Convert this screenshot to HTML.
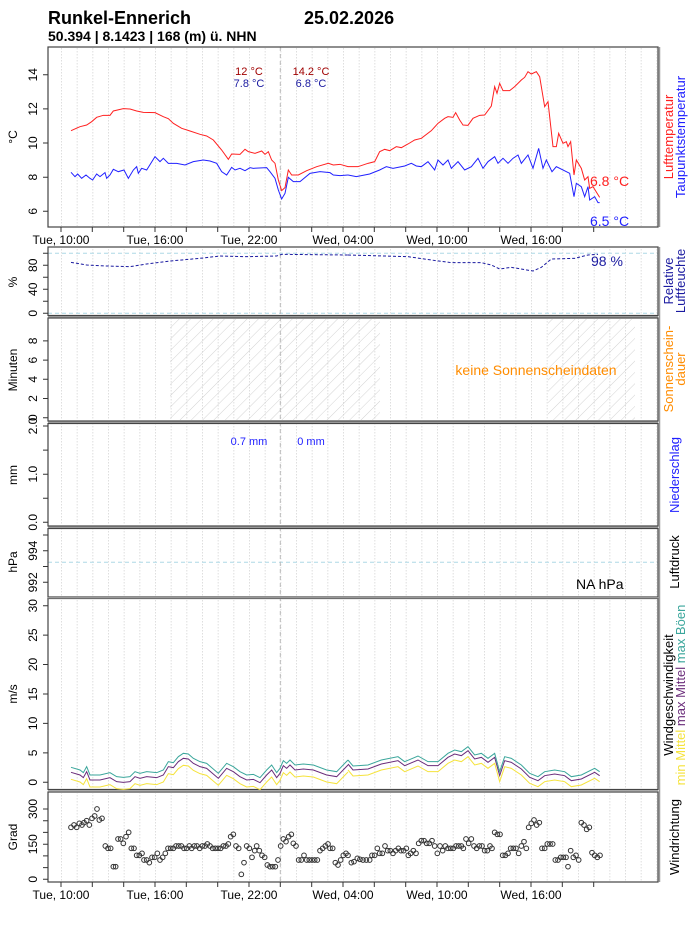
<!DOCTYPE html>
<html><head><meta charset="utf-8"><style>
html,body{margin:0;padding:0;background:#fff;}
svg{display:block;font-family:"Liberation Sans",Arial,sans-serif;}
</style></head><body>
<svg width="696" height="930" viewBox="0 0 696 930" xmlns="http://www.w3.org/2000/svg">
<defs>
<pattern id="grid" patternUnits="userSpaceOnUse" x="61" y="0" width="15.667" height="930">
<line x1="0.5" y1="0" x2="0.5" y2="930" stroke="#d6d6d6" stroke-width="0.8" stroke-dasharray="1.5,1.5"/>
</pattern>
<pattern id="hatch" patternUnits="userSpaceOnUse" width="8" height="8" patternTransform="rotate(45)">
<line x1="0" y1="0" x2="0" y2="8" stroke="#c8c8c8" stroke-width="0.8"/>
</pattern>
</defs>
<rect width="696" height="930" fill="#fff"/>
<text x="48" y="24" font-size="18" font-weight="bold">Runkel-Ennerich</text>
<text x="304" y="24" font-size="18" font-weight="bold">25.02.2026</text>
<text x="48" y="41" font-size="14" font-weight="bold">50.394 | 8.1423 | 168 (m) ü. NHN</text>

<rect x="49" y="48" width="608" height="178" fill="url(#grid)"/>
<rect x="49" y="248" width="608" height="67" fill="url(#grid)"/>
<rect x="49" y="319" width="608" height="101" fill="url(#grid)"/>
<rect x="49" y="424" width="608" height="101" fill="url(#grid)"/>
<rect x="49" y="529" width="608" height="67" fill="url(#grid)"/>
<rect x="49" y="599" width="608" height="189" fill="url(#grid)"/>
<rect x="49" y="793" width="608" height="88" fill="url(#grid)"/>

<rect x="170" y="319" width="210" height="101" fill="url(#hatch)"/>
<rect x="548" y="319" width="87" height="101" fill="url(#hatch)"/>

<g stroke="#add8e6" stroke-width="1" stroke-dasharray="4,3">
<line x1="48" y1="253.3" x2="658" y2="253.3"/>
<line x1="48" y1="313.3" x2="658" y2="313.3"/>
<line x1="48" y1="562.3" x2="658" y2="562.3"/>
</g>
<g stroke="#bbb" stroke-width="1" stroke-dasharray="4,3">
<line x1="280.3" y1="47" x2="280.3" y2="227"/>
<line x1="280.3" y1="247" x2="280.3" y2="882"/>
</g>

<g fill="none" stroke="#444" stroke-width="1.2">
<rect x="48" y="47" width="610" height="180"/>
<rect x="48" y="247" width="610" height="68.5"/>
<rect x="48" y="318" width="610" height="103"/>
<rect x="48" y="423.5" width="610" height="102.5"/>
<rect x="48" y="528.5" width="610" height="68.5"/>
<rect x="48" y="598.5" width="610" height="191"/>
<rect x="48" y="792" width="610" height="90"/>
</g>
<g stroke="#999" stroke-width="1.5">
<line x1="48" y1="316.8" x2="658" y2="316.8"/>
<line x1="48" y1="422.3" x2="658" y2="422.3"/>
<line x1="48" y1="527.2" x2="658" y2="527.2"/>
<line x1="48" y1="597.8" x2="658" y2="597.8"/>
<line x1="48" y1="791" x2="658" y2="791"/>
<line x1="659.5" y1="47" x2="659.5" y2="227"/>
<line x1="659.5" y1="247" x2="659.5" y2="882"/>
</g>

<g stroke="#333" stroke-width="1">
<path d="M61,227v5M92.3,227v5M123.7,227v5M155,227v5M186.3,227v5M217.7,227v5M249,227v5M280.3,227v5M311.7,227v5M343,227v5M374.3,227v5M405.7,227v5M437,227v5M468.3,227v5M499.7,227v5M531,227v5M562.3,227v5M593.7,227v5"/>
<path d="M61,882v5M92.3,882v5M123.7,882v5M155,882v5M186.3,882v5M217.7,882v5M249,882v5M280.3,882v5M311.7,882v5M343,882v5M374.3,882v5M405.7,882v5M437,882v5M468.3,882v5M499.7,882v5M531,882v5M562.3,882v5M593.7,882v5"/>
</g>
<g font-size="12" text-anchor="middle" fill="#000">
<text x="61" y="244">Tue, 10:00</text><text x="155" y="244">Tue, 16:00</text><text x="249" y="244">Tue, 22:00</text>
<text x="343" y="244">Wed, 04:00</text><text x="437" y="244">Wed, 10:00</text><text x="531" y="244">Wed, 16:00</text>
<text x="61" y="899">Tue, 10:00</text><text x="155" y="899">Tue, 16:00</text><text x="249" y="899">Tue, 22:00</text>
<text x="343" y="899">Wed, 04:00</text><text x="437" y="899">Wed, 10:00</text><text x="531" y="899">Wed, 16:00</text>
</g>

<g stroke="#333" stroke-width="1">
<path d="M43,211.3h5M43,177.2h5M43,143h5M43,108.9h5M43,74.7h5"/>
<path d="M43,313.3h5M43,301.3h5M43,289.3h5M43,277.3h5M43,265.3h5M43,253.3h5"/>
<path d="M43,417.7h5M43,398.5h5M43,379.3h5M43,360.1h5M43,340.9h5"/>
<path d="M43,522.3h5M43,498.2h5M43,474.2h5M43,450.1h5M43,426h5"/>
<path d="M43,582.3h5M43,566.5h5M43,550.7h5M43,535h5"/>
<path d="M43,782.3h5M43,752.9h5M43,723.4h5M43,694h5M43,664.5h5M43,635.1h5M43,605.7h5"/>
<path d="M43,879.3h5M43,867.6h5M43,855.9h5M43,844.2h5M43,832.4h5M43,820.7h5M43,809h5"/>
</g>
<g font-size="12" text-anchor="middle" fill="#000">
<text transform="translate(37,211.3) rotate(-90)">6</text>
<text transform="translate(37,177.2) rotate(-90)">8</text>
<text transform="translate(37,143) rotate(-90)">10</text>
<text transform="translate(37,108.9) rotate(-90)">12</text>
<text transform="translate(37,74.7) rotate(-90)">14</text>
<text transform="translate(37,313.3) rotate(-90)">0</text>
<text transform="translate(37,289.3) rotate(-90)">40</text>
<text transform="translate(37,265.3) rotate(-90)">80</text>
<text transform="translate(37,417.7) rotate(-90)">0</text>
<text transform="translate(37,398.5) rotate(-90)">2</text>
<text transform="translate(37,379.3) rotate(-90)">4</text>
<text transform="translate(37,360.1) rotate(-90)">6</text>
<text transform="translate(37,340.9) rotate(-90)">8</text>
<text transform="translate(37,522.3) rotate(-90)">0.0</text>
<text transform="translate(37,474.2) rotate(-90)">1.0</text>
<text transform="translate(37,426) rotate(-90)">2.0</text>
<text transform="translate(37,582.3) rotate(-90)">992</text>
<text transform="translate(37,550.7) rotate(-90)">994</text>
<text transform="translate(37,782.3) rotate(-90)">0</text>
<text transform="translate(37,752.9) rotate(-90)">5</text>
<text transform="translate(37,723.4) rotate(-90)">10</text>
<text transform="translate(37,694) rotate(-90)">15</text>
<text transform="translate(37,664.5) rotate(-90)">20</text>
<text transform="translate(37,635.1) rotate(-90)">25</text>
<text transform="translate(37,605.7) rotate(-90)">30</text>
<text transform="translate(37,879.3) rotate(-90)">0</text>
<text transform="translate(37,844.2) rotate(-90)">150</text>
<text transform="translate(37,809) rotate(-90)">300</text>
<text transform="translate(17,137) rotate(-90)">°C</text>
<text transform="translate(17,282) rotate(-90)">%</text>
<text transform="translate(17,370) rotate(-90)">Minuten</text>
<text transform="translate(17,475) rotate(-90)">mm</text>
<text transform="translate(17,562) rotate(-90)">hPa</text>
<text transform="translate(17,694) rotate(-90)">m/s</text>
<text transform="translate(17,837) rotate(-90)">Grad</text>
</g>

<g transform="scale(0.33333)" fill="none">
<polyline stroke="#ff2020" vector-effect="non-scaling-stroke" points="213,392 240,380 260,375 275,365 290,352 310,346 330,346 340,333 370,326 390,327 410,333 430,337 465,338 490,350 505,356 520,370 545,385 570,393 600,403 620,408 640,420 665,450 685,478 695,462 720,463 735,448 745,455 765,460 785,453 795,463 805,455 815,480 825,490 835,540 845,572 855,563 865,510 875,525 895,525 920,512 950,500 985,490 1000,495 1020,493 1044,500"/>
<polyline stroke="#2020ff" vector-effect="non-scaling-stroke" points="213,517 225,530 233,522 245,535 258,525 270,535 278,540 290,522 300,530 315,518 320,535 330,525 340,508 355,515 372,510 385,535 400,510 410,500 415,520 425,505 440,510 465,470 480,485 490,475 505,490 530,490 555,495 580,485 610,480 630,483 650,490 665,515 680,525 695,502 705,510 720,505 735,512 750,503 760,505 800,503 810,515 825,535 835,570 845,597 855,580 865,532 880,545 900,545 930,520 960,515 990,518 1000,525 1020,527 1044,525"/>
</g>
<g transform="translate(348,0) scale(0.33333)" fill="none">
<polyline stroke="#ff2020" vector-effect="non-scaling-stroke" points="0,500 30,500 60,490 80,485 95,455 110,448 125,452 145,440 160,443 180,432 200,420 220,415 250,392 270,370 290,355 300,350 315,352 323,338 335,360 345,375 360,376 375,355 395,346 410,345 430,318 440,260 447,280 455,250 465,272 485,272 500,260 520,240 530,232 540,215 550,222 565,215 575,230 590,320 600,305 615,440 625,440 632,400 645,430 655,425 660,440 668,425 678,525 685,480 700,505 710,540 720,530 725,565 735,560 755,592"/>
<polyline stroke="#2020ff" vector-effect="non-scaling-stroke" points="0,525 25,530 65,522 95,510 115,500 135,505 170,498 190,490 205,498 220,500 240,485 260,510 270,480 285,495 300,480 310,505 330,485 350,510 370,500 390,475 405,505 420,485 440,470 450,490 465,475 480,490 495,475 510,465 520,490 540,465 555,505 572,445 585,505 595,480 612,515 625,500 665,520 678,590 685,550 700,560 710,590 720,560 725,600 740,590 750,608 755,608"/>
</g>
<g font-size="11" text-anchor="middle">
<text x="249" y="75" fill="#a00000">12 °C</text>
<text x="249" y="87" fill="#1a1aa0">7.8 °C</text>
<text x="311" y="75" fill="#a00000">14.2 °C</text>
<text x="311" y="87" fill="#1a1aa0">6.8 °C</text>
</g>
<text x="590" y="186" font-size="14" fill="#ff2020">6.8 °C</text>
<text x="590" y="226" font-size="14" fill="#2020ff">6.5 °C</text>

<g transform="translate(0,240) scale(0.33333)" fill="none">
<polyline stroke="#1a1aa0" stroke-dasharray="3,2" vector-effect="non-scaling-stroke" points="213,67 260,75 320,78 390,80 440,72 510,63 600,55 660,48 740,50 830,48 845,43 1044,45"/>
</g>
<g transform="translate(348,240) scale(0.33333)" fill="none">
<polyline stroke="#1a1aa0" stroke-dasharray="3,2" vector-effect="non-scaling-stroke" points="0,45 180,50 250,60 310,68 400,68 430,75 455,87 490,82 555,93 580,82 610,57 680,55 720,45 750,43"/>
</g>
<text x="591" y="266" font-size="14" fill="#1a1aa0">98 %</text>

<text x="536" y="375" font-size="14" fill="#ff8c00" text-anchor="middle">keine Sonnenscheindaten</text>
<text x="249" y="445" font-size="11" fill="#2020ff" text-anchor="middle">0.7 mm</text>
<text x="311" y="445" font-size="11" fill="#2020ff" text-anchor="middle">0 mm</text>
<text x="576" y="589" font-size="14" fill="#000">NA hPa</text>

<!-- wind -->
<g transform="translate(0,590) scale(0.33333)" fill="none">
<g transform="translate(0,36)"><polyline stroke="#f5e33c" vector-effect="non-scaling-stroke" points="213,532 240,540 250,548 260,530 270,555 300,555 330,548 350,560 370,562 390,560 405,545 420,550 440,545 470,548 490,540 505,515 520,518 535,500 550,490 565,492 580,505 600,515 620,520 655,550 680,520 700,530 720,545 740,555 760,553 780,563 800,540 815,525 830,548 840,535 850,512 860,520 870,510 885,525 910,522 940,525 980,540 1010,545 1044,510"/></g>
<g transform="translate(0,15)"><polyline stroke="#6a2c7a" vector-effect="non-scaling-stroke" points="213,532 240,540 250,548 260,530 270,555 300,555 330,548 350,560 370,562 390,560 405,545 420,550 440,545 470,548 490,540 505,515 520,518 535,500 550,490 565,492 580,505 600,515 620,520 655,550 680,520 700,530 720,545 740,555 760,553 780,563 800,540 815,525 830,548 840,535 850,512 860,520 870,510 885,525 910,522 940,525 980,540 1010,545 1044,510"/></g>
<polyline stroke="#3aa69b" vector-effect="non-scaling-stroke" points="213,532 240,540 250,548 260,530 270,555 300,555 330,548 350,560 370,562 390,560 405,545 420,550 440,545 470,548 490,540 505,515 520,518 535,500 550,490 565,492 580,505 600,515 620,520 655,550 680,520 700,530 720,545 740,555 760,553 780,563 800,540 815,525 830,548 840,535 850,512 860,520 870,510 885,525 910,522 940,525 980,540 1010,545 1044,510"/>
</g>
<g transform="translate(348,590) scale(0.33333)" fill="none">
<g transform="translate(0,30)"><polyline stroke="#f5e33c" vector-effect="non-scaling-stroke" points="0,510 15,528 60,525 100,510 150,500 170,515 210,498 240,515 270,515 300,490 320,480 340,485 360,470 380,495 400,490 420,505 440,490 455,545 470,500 490,505 520,525 545,550 570,560 590,545 620,540 650,545 670,560 700,555 740,535 755,545"/></g>
<g transform="translate(0,12)"><polyline stroke="#6a2c7a" vector-effect="non-scaling-stroke" points="0,510 15,528 60,525 100,510 150,500 170,515 210,498 240,515 270,515 300,490 320,480 340,485 360,470 380,495 400,490 420,505 440,490 455,545 470,500 490,505 520,525 545,550 570,560 590,545 620,540 650,545 670,560 700,555 740,535 755,545"/></g>
<polyline stroke="#3aa69b" vector-effect="non-scaling-stroke" points="0,510 15,528 60,525 100,510 150,500 170,515 210,498 240,515 270,515 300,490 320,480 340,485 360,470 380,495 400,490 420,505 440,490 455,545 470,500 490,505 520,525 545,550 570,560 590,545 620,540 650,545 670,560 700,555 740,535 755,545"/>
</g>

<!-- wind direction -->
<g transform="translate(0,590) scale(0.33333)" fill="none" stroke="#333" stroke-width="3">
<circle cx="213" cy="712" r="7"/><circle cx="222" cy="705" r="7"/><circle cx="230" cy="712" r="7"/><circle cx="238" cy="700" r="7"/><circle cx="246" cy="705" r="7"/><circle cx="252" cy="698" r="7"/><circle cx="260" cy="692" r="7"/><circle cx="268" cy="705" r="7"/><circle cx="276" cy="685" r="7"/><circle cx="284" cy="678" r="7"/><circle cx="291" cy="657" r="7"/><circle cx="298" cy="690" r="7"/><circle cx="306" cy="685" r="7"/><circle cx="316" cy="768" r="7"/><circle cx="324" cy="775" r="7"/><circle cx="332" cy="775" r="7"/><circle cx="340" cy="830" r="7"/><circle cx="347" cy="830" r="7"/><circle cx="354" cy="747" r="7"/><circle cx="362" cy="747" r="7"/><circle cx="370" cy="760" r="7"/><circle cx="378" cy="740" r="7"/><circle cx="386" cy="727" r="7"/><circle cx="394" cy="775" r="7"/><circle cx="402" cy="775" r="7"/><circle cx="410" cy="796" r="7"/><circle cx="418" cy="796" r="7"/><circle cx="426" cy="790" r="7"/><circle cx="432" cy="810" r="7"/><circle cx="440" cy="810" r="7"/><circle cx="448" cy="818" r="7"/><circle cx="456" cy="802" r="7"/><circle cx="464" cy="802" r="7"/><circle cx="472" cy="790" r="7"/><circle cx="480" cy="810" r="7"/><circle cx="488" cy="802" r="7"/><circle cx="496" cy="790" r="7"/><circle cx="504" cy="775" r="7"/><circle cx="512" cy="775" r="7"/><circle cx="520" cy="775" r="7"/><circle cx="528" cy="768" r="7"/><circle cx="536" cy="768" r="7"/><circle cx="544" cy="768" r="7"/><circle cx="552" cy="775" r="7"/><circle cx="560" cy="775" r="7"/><circle cx="568" cy="768" r="7"/><circle cx="575" cy="775" r="7"/><circle cx="583" cy="768" r="7"/><circle cx="591" cy="768" r="7"/><circle cx="599" cy="775" r="7"/><circle cx="607" cy="768" r="7"/><circle cx="615" cy="768" r="7"/><circle cx="622" cy="762" r="7"/><circle cx="630" cy="768" r="7"/><circle cx="638" cy="775" r="7"/><circle cx="646" cy="775" r="7"/><circle cx="654" cy="775" r="7"/><circle cx="662" cy="775" r="7"/><circle cx="670" cy="768" r="7"/><circle cx="678" cy="768" r="7"/><circle cx="685" cy="762" r="7"/><circle cx="692" cy="740" r="7"/><circle cx="700" cy="733" r="7"/><circle cx="708" cy="768" r="7"/><circle cx="716" cy="775" r="7"/><circle cx="724" cy="853" r="7"/><circle cx="732" cy="818" r="7"/><circle cx="740" cy="768" r="7"/><circle cx="748" cy="775" r="7"/><circle cx="756" cy="802" r="7"/><circle cx="764" cy="782" r="7"/><circle cx="770" cy="768" r="7"/><circle cx="778" cy="782" r="7"/><circle cx="786" cy="796" r="7"/><circle cx="794" cy="802" r="7"/><circle cx="802" cy="825" r="7"/><circle cx="810" cy="830" r="7"/><circle cx="818" cy="830" r="7"/><circle cx="826" cy="830" r="7"/><circle cx="834" cy="810" r="7"/><circle cx="842" cy="768" r="7"/><circle cx="850" cy="747" r="7"/><circle cx="858" cy="755" r="7"/><circle cx="866" cy="740" r="7"/><circle cx="874" cy="733" r="7"/><circle cx="880" cy="760" r="7"/><circle cx="888" cy="768" r="7"/><circle cx="896" cy="810" r="7"/><circle cx="904" cy="810" r="7"/><circle cx="912" cy="796" r="7"/><circle cx="920" cy="810" r="7"/><circle cx="928" cy="810" r="7"/><circle cx="936" cy="810" r="7"/><circle cx="944" cy="810" r="7"/><circle cx="952" cy="810" r="7"/><circle cx="960" cy="782" r="7"/><circle cx="968" cy="775" r="7"/><circle cx="976" cy="768" r="7"/><circle cx="984" cy="762" r="7"/><circle cx="990" cy="775" r="7"/><circle cx="998" cy="775" r="7"/><circle cx="1006" cy="818" r="7"/><circle cx="1014" cy="825" r="7"/><circle cx="1022" cy="810" r="7"/><circle cx="1030" cy="796" r="7"/><circle cx="1038" cy="790" r="7"/>
</g>
<g transform="translate(348,590) scale(0.33333)" fill="none" stroke="#333" stroke-width="3">
<circle cx="0" cy="796" r="7"/><circle cx="10" cy="818" r="7"/><circle cx="18" cy="815" r="7"/><circle cx="28" cy="805" r="7"/><circle cx="36" cy="808" r="7"/><circle cx="45" cy="810" r="7"/><circle cx="55" cy="810" r="7"/><circle cx="65" cy="810" r="7"/><circle cx="72" cy="796" r="7"/><circle cx="80" cy="796" r="7"/><circle cx="88" cy="775" r="7"/><circle cx="95" cy="790" r="7"/><circle cx="103" cy="790" r="7"/><circle cx="111" cy="768" r="7"/><circle cx="119" cy="782" r="7"/><circle cx="127" cy="782" r="7"/><circle cx="135" cy="790" r="7"/><circle cx="143" cy="782" r="7"/><circle cx="151" cy="775" r="7"/><circle cx="159" cy="782" r="7"/><circle cx="167" cy="782" r="7"/><circle cx="175" cy="775" r="7"/><circle cx="181" cy="796" r="7"/><circle cx="188" cy="790" r="7"/><circle cx="196" cy="782" r="7"/><circle cx="204" cy="790" r="7"/><circle cx="212" cy="760" r="7"/><circle cx="220" cy="752" r="7"/><circle cx="228" cy="752" r="7"/><circle cx="236" cy="760" r="7"/><circle cx="244" cy="760" r="7"/><circle cx="252" cy="752" r="7"/><circle cx="260" cy="768" r="7"/><circle cx="268" cy="790" r="7"/><circle cx="276" cy="768" r="7"/><circle cx="284" cy="782" r="7"/><circle cx="292" cy="768" r="7"/><circle cx="300" cy="775" r="7"/><circle cx="308" cy="775" r="7"/><circle cx="316" cy="775" r="7"/><circle cx="324" cy="768" r="7"/><circle cx="332" cy="768" r="7"/><circle cx="340" cy="768" r="7"/><circle cx="346" cy="775" r="7"/><circle cx="354" cy="747" r="7"/><circle cx="362" cy="760" r="7"/><circle cx="370" cy="747" r="7"/><circle cx="378" cy="768" r="7"/><circle cx="386" cy="775" r="7"/><circle cx="394" cy="768" r="7"/><circle cx="402" cy="768" r="7"/><circle cx="410" cy="782" r="7"/><circle cx="418" cy="782" r="7"/><circle cx="426" cy="768" r="7"/><circle cx="432" cy="775" r="7"/><circle cx="440" cy="727" r="7"/><circle cx="448" cy="733" r="7"/><circle cx="456" cy="733" r="7"/><circle cx="464" cy="796" r="7"/><circle cx="472" cy="796" r="7"/><circle cx="480" cy="790" r="7"/><circle cx="488" cy="775" r="7"/><circle cx="496" cy="775" r="7"/><circle cx="504" cy="775" r="7"/><circle cx="512" cy="790" r="7"/><circle cx="520" cy="768" r="7"/><circle cx="528" cy="755" r="7"/><circle cx="535" cy="775" r="7"/><circle cx="542" cy="712" r="7"/><circle cx="550" cy="700" r="7"/><circle cx="558" cy="690" r="7"/><circle cx="566" cy="705" r="7"/><circle cx="574" cy="698" r="7"/><circle cx="582" cy="775" r="7"/><circle cx="590" cy="775" r="7"/><circle cx="598" cy="762" r="7"/><circle cx="606" cy="762" r="7"/><circle cx="614" cy="762" r="7"/><circle cx="622" cy="810" r="7"/><circle cx="630" cy="810" r="7"/><circle cx="638" cy="802" r="7"/><circle cx="646" cy="802" r="7"/><circle cx="654" cy="802" r="7"/><circle cx="660" cy="830" r="7"/><circle cx="668" cy="782" r="7"/><circle cx="676" cy="802" r="7"/><circle cx="684" cy="796" r="7"/><circle cx="692" cy="810" r="7"/><circle cx="700" cy="698" r="7"/><circle cx="708" cy="705" r="7"/><circle cx="716" cy="718" r="7"/><circle cx="724" cy="712" r="7"/><circle cx="732" cy="788" r="7"/><circle cx="740" cy="796" r="7"/><circle cx="748" cy="802" r="7"/><circle cx="756" cy="796" r="7"/>
</g>

<g font-size="13" text-anchor="middle">
<text transform="translate(673,137) rotate(-90)" fill="#ff2020">Lufttemperatur</text>
<text transform="translate(685,137) rotate(-90)" fill="#2020ff">Taupunktstemperatur</text>
<text transform="translate(673,281) rotate(-90)" fill="#1a1aa0">Relative</text>
<text transform="translate(685,281) rotate(-90)" fill="#1a1aa0">Luftfeuchte</text>
<text transform="translate(673,369) rotate(-90)" fill="#ff8c00">Sonnenschein-</text>
<text transform="translate(685,369) rotate(-90)" fill="#ff8c00">dauer</text>
<text transform="translate(679,475) rotate(-90)" fill="#2020ff">Niederschlag</text>
<text transform="translate(679,562) rotate(-90)" fill="#000">Luftdruck</text>
<text transform="translate(673,695) rotate(-90)" fill="#000">Windgeschwindigkeit</text>
<text transform="translate(685,695) rotate(-90)"><tspan fill="#f5e33c">min Mittel </tspan><tspan fill="#6a2c7a">max Mittel </tspan><tspan fill="#3aa69b">max Böen</tspan></text>
<text transform="translate(679,837) rotate(-90)" fill="#000">Windrichtung</text>
</g>
</svg>
</body></html>
